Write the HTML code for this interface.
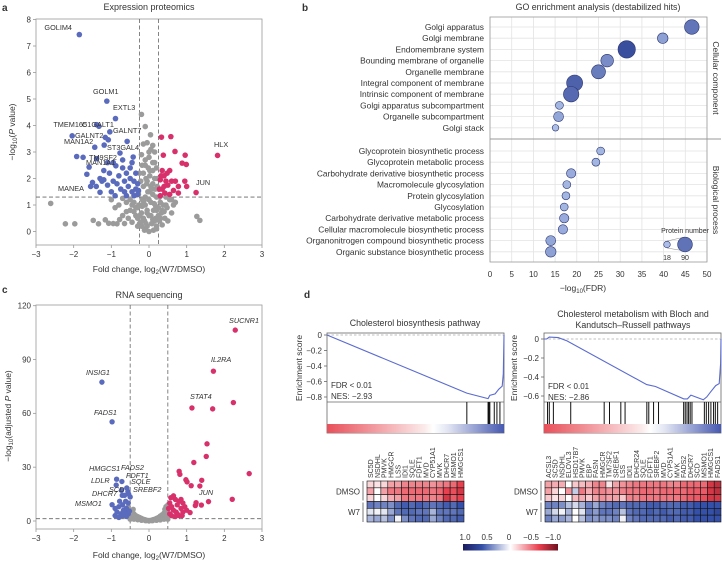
<!DOCTYPE html>
<html><head><meta charset="utf-8">
<style>
html,body{margin:0;padding:0;background:#fff;}
svg{display:block;font-family:"Liberation Sans",sans-serif;}
text{fill:#333;}
</style></head>
<body>
<svg id="fig" width="722" height="563" viewBox="0 0 722 563" xmlns="http://www.w3.org/2000/svg">
<g id="pa"></g>
<g id="pb"></g>
<g id="pc"></g>
<g id="pd"></g>
</svg>
<script>
// ---------- DATA ----------
const aGrayX=[-2.61,-2.22,-1.97,-1.48,-1.34,-1.16,-1.07,-0.95,-0.85,-0.78,-0.7,-0.65,-0.55,-0.5,-0.45,-0.4,-0.35,-0.3,-0.28,-0.25,-0.2,-0.18,-0.15,-0.12,-0.1,-0.08,-0.05,-0.03,0,0.02,0.05,0.07,0.1,0.12,0.15,0.18,0.2,0.22,0.25,0.28,0.3,0.33,0.38,0.42,0.48,0.55,0.6,0.65,1.27,1.35,-0.2,-0.1,0.04,-0.15,-0.05,0.1,0.15,-0.2,0,0.1,-0.1,0.05,-0.25,-0.6,-0.8,-0.9,-1.0,0.2,-0.1,0,-0.3,0.35,-0.6,0.5,-0.18,0.16,-0.22,0.2,0.26,-0.27,0.45,0.6,-0.5,0.7,-0.7,0.1,-0.05,
 -0.15,-0.05,0.05,0.15,-0.1,0,0.1,-0.2,0.2,-0.15,0.15,-0.05,0.05,-0.25,0.25,-0.1,0.1,0,-0.2,0.2,-0.3,0.3,-0.35,0.35,-0.12,0.12,-0.02,0.02,-0.08,0.08,-0.18,0.18,-0.4,0.4,-0.45,0.45,-0.28,0.28,0,-0.06,0.06,-0.14,0.14,-0.22,0.22];
const aGrayY=[1.06,0.29,0.29,0.42,0.29,0.44,0.31,0.3,0.29,0.45,0.6,0.3,0.5,0.8,0.35,1.1,0.6,0.9,1.4,0.3,0.7,1.2,1.7,0.4,1.0,2.0,0.2,1.5,0.6,2.3,1.1,0.3,1.8,0.8,2.6,0.5,1.3,2.0,0.9,0.4,1.1,0.7,1.0,0.5,0.9,1.2,0.7,1.0,0.57,0.42,4.42,3.96,3.65,3.3,3.35,3.25,3.0,2.9,2.8,2.6,2.5,3.1,2.2,1.1,1.0,0.9,1.2,0.1,0.1,0.0,0.2,0.25,0.75,0.4,2.5,1.6,1.9,2.4,1.6,1.0,1.3,1.2,1.2,1.1,1.25,0.45,0.8,
 0.5,0.7,0.6,0.4,1.3,1.5,1.4,1.0,0.8,2.2,2.0,1.9,1.7,0.6,0.6,2.7,2.3,1.2,0.2,0.2,0.5,0.5,0.9,0.8,0.05,0.05,2.4,2.1,0.3,0.3,0.95,0.95,0.75,0.75,1.0,1.0,1.5,1.3,3.0,1.8,1.6,1.15,1.05,0.35,1.7];
const aBlueX=[-1.85,-1.12,-0.89,-1.39,-1.33,-1.04,-0.58,-2.04,-1.16,-1.08,-1.44,-1.19,-0.77,-0.42,-1.39,-1.30,-1.92,-1.59,-1.65,-0.88,-1.2,-1.05,-0.7,-0.6,-0.5,-0.4,-0.35,-0.3,-0.45,-0.55,-0.65,-0.75,-0.85,-0.95,-1.1,-1.25,-1.4,-1.55,-1.5,-1.0,-0.9,-0.6,-0.5,-0.35,-0.3,-0.8,-1.3,-1.1,-0.95,-0.7,-0.45,-1.75,-1.2,-0.65,-0.4,-0.28];
const aBlueY=[7.43,4.92,4.26,4.03,3.97,3.76,3.40,3.61,3.55,3.46,3.18,3.26,2.96,2.81,2.75,1.48,2.83,2.43,2.16,2.48,2.3,2.2,2.4,2.2,2.0,1.9,1.6,1.4,1.5,1.7,1.9,1.6,1.8,1.9,1.75,1.9,1.7,1.7,1.85,1.5,1.35,1.35,2.4,2.2,1.8,2.1,2.0,2.6,2.6,2.7,2.6,2.8,1.95,1.5,1.35,1.55];
const aRedX=[1.82,1.25,0.58,0.33,0.38,0.69,0.96,0.88,0.99,0.35,0.4,0.3,0.45,0.5,0.35,0.42,0.3,0.55,0.6,0.7,0.78,0.78,0.95,1.0,0.65,0.48,0.32,0.55,0.4,0.28];
const aRedY=[2.87,1.47,3.58,3.56,2.88,3.02,2.88,2.58,2.53,2.3,2.1,1.95,1.9,1.75,1.6,1.45,1.35,1.4,1.9,1.9,1.7,1.45,1.9,1.7,1.55,2.2,2.1,2.3,1.7,1.6];
const aXTicks=[-3,-2,-1,0,1,2,3];
const aYTicks=[0,1,2,3,4,5,6,7,8];

const goTerms=["Golgi apparatus","Golgi membrane","Endomembrane system","Bounding membrane of organelle","Organelle membrane","Integral component of membrane","Intrinsic component of membrane","Golgi apparatus subcompartment","Organelle subcompartment","Golgi stack","Glycoprotein biosynthetic process","Glycoprotein metabolic process","Carbohydrate derivative biosynthetic process","Macromolecule glycosylation","Protein glycosylation","Glycosylation","Carbohydrate derivative metabolic process","Cellular macromolecule biosynthetic process","Organonitrogen compound biosynthetic process","Organic substance biosynthetic process"];
const goFDR=[46.5,39.8,31.5,27,25,19.5,18.7,16,15.8,15.1,25.5,24.4,18.7,17.7,17.5,17.1,17.1,16.8,14,14];
const goCount=[88,46,125,66,81,106,98,26,41,18,26,26,36,26,26,26,36,36,41,46];
const goXTicks=[0,5,10,15,20,25,30,35,40,45,50];

const cGrayX=[-0.5,-0.45,-0.4,-0.35,-0.3,-0.25,-0.2,-0.15,-0.1,-0.05,0,0.05,0.1,0.15,0.2,0.25,0.3,0.35,0.4,0.45,0.5,-0.5,-0.45,-0.4,-0.3,-0.2,0.2,0.3,0.4,0.45,0.48,-0.48,-0.38,0.38,-0.55,0.5,0.45,-0.6,-0.42,0.42,0,-0.1,0.1,0.5,-0.5,-0.32,0.32,-0.22,0.22,-0.47,-0.43,0.43,0.47,-0.27,0.27,-0.17,0.17,-0.07,0.07];
const cGrayY=[6,5,4,3,2.5,2,1.5,1,0.7,0.4,0.3,0.4,0.7,1,1.5,2,2.8,3.5,4.5,5.5,7,2,1.5,1,0.7,0.4,0.4,0.6,1,2,3,3.5,2,2,8,9,8,4,6.5,6.5,0,0.2,0.2,1,1,1.5,1.5,0.8,0.8,4.5,3,3,5,1.2,1.2,0.6,0.6,0.2,0.2];
const cBlueX=[-1.25,-0.98,-0.86,-0.72,-0.59,-0.87,-0.73,-0.71,-0.65,-0.56,-0.54,-0.5,-0.98,-0.9,-0.8,-0.7,-0.6,-0.55,-0.85,-0.75,-0.65,-0.55,-0.9,-0.8,-0.7,-0.6,-0.52,-0.62,-0.78,-0.68];
const cBlueY=[77.4,55.3,23.3,22,18.4,20,17.1,14.3,14.3,16.4,15,13.4,9.1,7,8,9,7,10,5,4,5,4,3,2,3,2.5,5.5,11,11,6];
const cRedX=[2.29,1.71,1.14,1.69,2.24,1.54,1.52,1.19,2.66,0.82,0.8,0.98,1.01,1.12,1.4,1.35,1.25,1.58,2.21,1.23,1.39,1.09,0.55,0.6,0.65,0.7,0.75,0.8,0.85,0.9,0.95,0.55,0.6,0.7,0.8,0.65,0.75,0.85,0.9,1.0,0.58,0.52,0.72,0.88];
const cRedY=[106.4,83.5,63,62.5,66,43,36,32.6,26.4,26,27.7,23,21.8,19.7,22.7,19.5,10.2,10.8,12.1,8.6,8.9,4.7,10,8,6,12,9,11,7,5,8,4,3,2.5,3,14,4,12,10,6,13,7,5,3];
const cXTicks=[-3,-2,-1,0,1,2,3];
const cYTicks=[0,30,60,90,120];

const gsea1Rank=[0,0.79,0.91,0.92,0.95,0.97,0.99,0.996,1];
const gsea1ES=[0,-0.75,-0.82,-0.78,-0.76,-0.70,-0.66,-0.5,0];
const gsea1Hits=[0.79,0.91,0.915,0.92,0.945,0.96,0.977];
const gsea2Rank=[0,0.015,0.03,0.08,0.13,0.58,0.63,0.79,0.81,0.83,0.90,0.92,0.94,0.97,0.99,0.998,1];
const gsea2ES=[0,0,0.02,0.015,-0.02,-0.48,-0.50,-0.63,-0.63,-0.59,-0.64,-0.61,-0.56,-0.49,-0.47,-0.26,0];
const gsea2Hits=[0.02,0.03,0.053,0.151,0.34,0.37,0.434,0.458,0.581,0.592,0.619,0.647,0.789,0.798,0.808,0.817,0.826,0.836,0.906,0.917,0.930,0.943,0.958,0.968,0.981];
const esTicks1=[0,-0.2,-0.4,-0.6,-0.8];
const esTicks2=[0,-0.2,-0.4,-0.6];

const hm1Genes=["SC5D","NSDHL","PMVK","HMGCR","LSS","IDI1","SQLE","FDFT1","MVD","CYP51A1","MVK","DHCR7","MSMO1","HMGCS1"];
const hm1Rows=[
[-0.15,-0.1,-0.15,-0.35,-0.35,-0.45,-0.45,-0.45,-0.45,-0.4,-0.45,-0.5,-0.55,-0.7],
[-0.35,0,-0.35,-0.5,-0.5,-0.55,-0.55,-0.55,-0.55,-0.5,-0.55,-0.7,-0.65,-0.75],
[-0.15,0,-0.15,-0.3,-0.35,-0.5,-0.5,-0.5,-0.5,-0.45,-0.5,-0.75,-0.6,-0.7],
[0.55,0.5,0.5,0.45,0.6,0.65,0.6,0.65,0.6,0.55,0.6,0.65,0.6,0.7],
[0.1,0.05,0.1,0.35,0.55,0.6,0.6,0.55,0.55,0.3,0.55,0.55,0.55,0.6],
[0.3,0.35,0.25,0.45,0.05,0.45,0.55,0.6,0.6,0.35,0.5,0.6,0.6,0.65]];
const hm2Genes=["ACSL3","SC5D","NSDHL","ELOVL3","HSD17B7","PMVK","EBP","FASN","HMGCR","TM7SF2","SREBF1","LSS","IDI1","DHCR24","SQLE","FDFT1","SREBF2","MVD","CYP51A1","MVK","FADS2","DHCR7","SCD","MSMO1","HMGCS1","FADS1"];
const hm2Rows=[
[-0.35,-0.3,-0.3,0,-0.2,-0.25,-0.3,-0.45,-0.45,-0.1,-0.35,-0.4,-0.45,-0.5,-0.5,-0.5,-0.5,-0.5,-0.45,-0.45,-0.55,-0.55,-0.55,-0.55,-0.75,-0.8],
[-0.35,-0.15,0,-0.4,0.2,-0.5,-0.3,-0.45,-0.45,-0.4,-0.4,-0.45,-0.5,-0.5,-0.55,-0.55,-0.5,-0.55,-0.55,-0.55,-0.55,-0.6,-0.6,-0.6,-0.75,-0.8],
[-0.2,-0.1,-0.15,0,-0.25,-0.3,-0.2,-0.35,-0.4,-0.35,-0.35,-0.2,-0.45,-0.45,-0.5,-0.5,-0.5,-0.5,-0.5,-0.5,-0.55,-0.6,-0.6,-0.65,-0.75,-0.75],
[0.5,0.5,0.45,0.25,0.15,0.3,0.5,0.35,0.5,0.55,0.6,0.55,0.6,0.6,0.6,0.65,0.65,0.6,0.6,0.6,0.65,0.65,0.7,0.7,0.7,0.7],
[0.35,0.15,0.05,0.3,0,0.1,0.5,0.4,0.55,0.55,0.5,0.25,0.55,0.6,0.6,0.65,0.6,0.65,0.6,0.6,0.65,0.65,0.7,0.7,0.7,0.75],
[0.5,0.35,0.4,0.3,0,0.25,0.45,0.4,0.45,0.45,0.5,0.05,0.5,0.55,0.6,0.6,0.6,0.6,0.65,0.6,0.65,0.65,0.7,0.7,0.7,0.7]];
const cbTicks=[1.0,0.5,0,-0.5,-1.0];

// ---------- HELPERS ----------
const NS="http://www.w3.org/2000/svg";
function mk(parent,tag,attrs){const e=document.createElementNS(NS,tag);for(const k in attrs)e.setAttribute(k,attrs[k]);parent.appendChild(e);return e;}
function txt(parent,x,y,s,size,anchor,extra){const e=mk(parent,"text",Object.assign({x:x,y:y,"font-size":size,"text-anchor":anchor||"start"},extra||{}));e.textContent=s;return e;}
function fmt(v){return (v<0?"\u2212":"")+Math.abs(v);}
const BLUE="#5a6bbd",RED="#d8306b",GRAY="#9b9b9b";

// ---------- VOLCANO ----------
function volcano(g,o){
  const sx=v=>o.x0+(v-o.xmin)/(o.xmax-o.xmin)*(o.x1-o.x0);
  const sy=v=>o.y0+(v-o.ymin)/(o.ymax-o.ymin)*(o.yTop-o.y0);
  const fr=mk(g,"rect",{x:o.x0,y:o.fy0,width:o.x1-o.x0,height:o.fy1-o.fy0,fill:"none",stroke:"#999","stroke-width":0.8});
  
  
  o.xt.forEach(t=>{const l=mk(g,"line",{x1:sx(t),x2:sx(t),y1:o.fy1,y2:o.fy1+3,stroke:"#999","stroke-width":0.8});
    
    
    const e=txt(g,sx(t),o.fy1+12,fmt(t),8,"middle");
    
    });
  o.yt.forEach(t=>{const l=mk(g,"line",{x1:o.x0-3,x2:o.x0,y1:sy(t),y2:sy(t),stroke:"#999","stroke-width":0.8});
    
    
    const e=txt(g,o.x0-5,sy(t)+2.8,String(t),8,"end");
    
    });
  const dash={stroke:"#666","stroke-width":0.8,"stroke-dasharray":"4,2.5"};
  o.vlines.forEach(v=>{const l=mk(g,"line",Object.assign({x1:sx(v),x2:sx(v),y1:o.fy0,y2:o.fy1},dash));
    
    });
  const h=mk(g,"line",Object.assign({x1:o.x0,x2:o.x1,y1:sy(1.3),y2:sy(1.3)},dash));
  
  
  const sets=[[o.gx,o.gy,GRAY,'point-nonsignificant'],[o.bx,o.by,BLUE,'point-down'],[o.rx,o.ry,RED,'point-up']];
  sets.forEach(s=>{s[0].forEach((xv,i)=>{const c=mk(g,"circle",{cx:sx(xv),cy:sy(s[1][i]),r:o.r,fill:s[2]});
    
    });});
}

// ---------- PANEL A ----------
const A=document.getElementById("pa");
volcano(A,{x0:36,x1:262,xmin:-3,xmax:3,y0:231.5,yTop:19.5,ymin:0,ymax:8,fy0:19,fy1:245,xt:aXTicks,yt:aYTicks,vlines:[-0.25,0.25],
  gx:aGrayX,gy:aGrayY,bx:aBlueX,by:aBlueY,rx:aRedX,ry:aRedY,r:2.8});
(function(){
  let e=txt(A,2,11,"a",10,"start",{"font-weight":"bold",fill:"#000"});
  e=txt(A,149,10,"Expression proteomics",9,"middle");
  e=txt(A,149,272,"",8.5,"middle");
  e.innerHTML='Fold change, log<tspan font-size="6" dy="2">2</tspan><tspan dy="-2">(W7/DMSO)</tspan>';
  e=txt(A,0,0,"",8.5,"middle",{transform:"translate(15,132) rotate(-90)"});
  e.innerHTML='\u2212log<tspan font-size="6" dy="2">10</tspan><tspan dy="-2">(</tspan><tspan font-style="italic">P</tspan> value)';
  const labs=[["GOLIM4",72,30,"end"],["GOLM1",93,94,"start"],["EXTL3",113,110,"start"],["C1GALT1",82,127,"start"],["TMEM165",87,127,"end"],["GALNT7",113,133,"start"],["GALNT2",75,138,"start"],["MAN1A2",64,144,"start"],["ST3GAL4",107,150,"start"],["TM9SF2",89,160,"start"],["MAN1A1",86,165,"start"],["MANEA",58,191,"start"],["HLX",214,147,"start"],["JUN",196,185,"start"]];
  labs.forEach(l=>{const t=txt(A,l[1],l[2],l[0],7.3,l[3]);});
})();

// ---------- PANEL B ----------
const B=document.getElementById("pb");
(function(){
  const X0=490,X1=707,FY0=17,FY1=262;
  const sx=v=>X0+v/50*(X1-X0);
  const rowY=i=>i<10?27+i*11.2:151+(i-10)*11.2;
  let e=txt(B,302,11,"b",10,"start",{"font-weight":"bold",fill:"#000"});
  e=txt(B,598,10,"GO enrichment analysis (destabilized hits)",8.8,"middle");
  goXTicks.forEach(t=>{const l=mk(B,"line",{x1:sx(t),x2:sx(t),y1:FY0,y2:FY1,stroke:"#e3e3e3","stroke-width":0.8});
    
    const tt=txt(B,sx(t),277,String(t),8,"middle");});
  goTerms.forEach((s,i)=>{const l=mk(B,"line",{x1:X0,x2:X1,y1:rowY(i),y2:rowY(i),stroke:"#e3e3e3","stroke-width":0.8});
    
    const t=txt(B,484,rowY(i)+3,s,8.4,"end");});
  const fr=mk(B,"rect",{x:X0,y:FY0,width:X1-X0,height:FY1-FY0,fill:"none",stroke:"#999","stroke-width":0.8});
  
  const sep=mk(B,"line",{x1:X0,x2:X1+14,y1:139,y2:139,stroke:"#999","stroke-width":1});
  
  const rr=n=>3.3*Math.sqrt(n/18);
  const col=n=>{const t=Math.min(1,Math.max(0,(n-18)/(107)));const a=[172,190,232],b=[58,78,158];
    return "rgb("+a.map((v,k)=>Math.round(v+(b[k]-v)*t)).join(",")+")";};
  goFDR.forEach((v,i)=>{const c=mk(B,"circle",{cx:sx(v),cy:rowY(i),r:rr(goCount[i]),fill:col(goCount[i]),stroke:"#2a3570","stroke-width":0.6});
    });
  e=txt(B,0,0,"Cellular component",8.5,"middle",{transform:"translate(713,78) rotate(90)"});
  e=txt(B,0,0,"Biological process",8.5,"middle",{transform:"translate(713,200) rotate(90)"});
  e=txt(B,583,291,"",8.5,"middle");
  e.innerHTML='\u2212log<tspan font-size="6" dy="2">10</tspan><tspan dy="-2">(FDR)</tspan>';
  e=txt(B,685,233,"Protein number",7,"middle");
  mk(B,"line",{x1:667,y1:241,x2:685,y2:237,stroke:"#888","stroke-width":0.5});
  mk(B,"line",{x1:667,y1:248,x2:685,y2:251,stroke:"#888","stroke-width":0.5});
  let c=mk(B,"circle",{cx:667,cy:244.5,r:rr(18),fill:col(18),stroke:"#2a3570","stroke-width":0.6});
  c=mk(B,"circle",{cx:685,cy:244.5,r:rr(90),fill:col(90),stroke:"#2a3570","stroke-width":0.6});
  e=txt(B,667,260,"18",7,"middle");
  e=txt(B,685,260,"90",7,"middle");
})();

// ---------- PANEL C ----------
const C=document.getElementById("pc");
volcano(C,{x0:36,x1:262,xmin:-3,xmax:3,y0:521,yTop:305.7,ymin:0,ymax:120,fy0:305,fy1:529,xt:cXTicks,yt:cYTicks,vlines:[-0.5,0.5],
  gx:cGrayX,gy:cGrayY,bx:cBlueX,by:cBlueY,rx:cRedX,ry:cRedY,r:2.7});
(function(){
  let e=txt(C,2,293,"c",10,"start",{"font-weight":"bold",fill:"#000"});
  e=txt(C,149,298,"RNA sequencing",9,"middle");
  e=txt(C,149,558,"",8.5,"middle");
  e.innerHTML='Fold change, log<tspan font-size="6" dy="2">2</tspan><tspan dy="-2">(W7/DMSO)</tspan>';
  e=txt(C,0,0,"",8.5,"middle",{transform:"translate(11,416) rotate(-90)"});
  e.innerHTML='\u2212log<tspan font-size="6" dy="2">10</tspan><tspan dy="-2">(adjusted </tspan><tspan font-style="italic">P</tspan> value)';
  const labs=[["SUCNR1",229,323],["IL2RA",211,362],["STAT4",190,399],["INSIG1",86,375],["FADS1",94,415],["HMGCS1",89,471],["FADS2",121,470],["FDFT1",126,478],["LDLR",91,483],["SQLE",131,484],["SCD",109,492],["SREBF2",133,492],["DHCR7",92,496],["MSMO1",75,506],["JUN",199,495]];
  labs.forEach(l=>{const t=txt(C,l[1],l[2],l[0],7.3,"start",{"font-style":"italic"});});
})();

// ---------- PANEL D ----------
const D=document.getElementById("pd");
function gsea(o){
  const sx=f=>o.x0+f*(o.x1-o.x0);
  const sy=v=>o.yz+(-v)*o.k;
  const fr=mk(D,"rect",{x:o.x0,y:333,width:o.x1-o.x0,height:100,fill:"none",stroke:"#666","stroke-width":0.8});
  
  mk(D,"line",{x1:o.x0,x2:o.x1,y1:402,y2:402,stroke:"#666","stroke-width":0.8});
  const zl=mk(D,"line",{x1:o.x0,x2:o.x1,y1:sy(0),y2:sy(0),stroke:"#aaa","stroke-width":0.8,"stroke-dasharray":"2.5,2"});
  
  o.ticks.forEach(t=>{mk(D,"line",{x1:o.x0-3,x2:o.x0,y1:sy(t),y2:sy(t),stroke:"#666","stroke-width":0.8});
    const e=txt(D,o.x0-5,sy(t)+2.8,fmt(t),8,"end");});
  const pts=o.rank.map((f,i)=>sx(f).toFixed(1)+","+sy(o.es[i]).toFixed(1)).join(" ");
  const pl=mk(D,"polyline",{points:pts,fill:"none",stroke:"#5a6bd0","stroke-width":1.1});
  
  o.hits.forEach(f=>{const l=mk(D,"line",{x1:sx(f),x2:sx(f),y1:402,y2:424,stroke:"#111","stroke-width":1});
    });
  const gb=mk(D,"rect",{x:o.x0,y:424,width:o.x1-o.x0,height:9,fill:"url(#rankGrad)"});
  
  let e=txt(D,o.x0+4,o.fy,"FDR < 0.01",8);
  e=txt(D,o.x0+4,o.fy+11,o.nes,8);
}
(function(){
  const defs=mk(document.getElementById("fig"),"defs",{});
  const g=mk(defs,"linearGradient",{id:"rankGrad",x1:0,x2:1,y1:0,y2:0});
  [["0","#e8505a"],["0.55","#fbeaea"],["0.6","#ffffff"],["0.68","#e3e6f3"],["1","#4759b0"]].forEach(s=>mk(g,"stop",{offset:s[0],"stop-color":s[1]}));
  const g2=mk(defs,"linearGradient",{id:"cbGrad",x1:0,x2:1,y1:0,y2:0});
  [["0","#1c1c5e"],["0.2","#3550a8"],["0.5","#ffffff"],["0.8","#e8404e"],["1","#6e1020"]].forEach(s=>mk(g2,"stop",{offset:s[0],"stop-color":s[1]}));
  let e=txt(D,304,298,"d",10,"start",{"font-weight":"bold",fill:"#000"});
  gsea({x0:327,x1:504,yz:335,k:77.5,ticks:esTicks1,rank:gsea1Rank,es:gsea1ES,hits:gsea1Hits,nes:"NES: \u22122.93",fy:388});
  gsea({x0:544,x1:721,yz:339,k:95,ticks:esTicks2,rank:gsea2Rank,es:gsea2ES,hits:gsea2Hits,nes:"NES: \u22122.86",fy:389});
  e=txt(D,415,326,"Cholesterol biosynthesis pathway",8.8,"middle");
  e=txt(D,633,317,"Cholesterol metabolism with Bloch and",8.8,"middle");
  e=txt(D,633,328,"Kandutsch\u2013Russell pathways",8.8,"middle");
  e=txt(D,0,0,"Enrichment score",8.5,"middle",{transform:"translate(302,368) rotate(-90)"});
  e=txt(D,0,0,"Enrichment score",8.5,"middle",{transform:"translate(517,368) rotate(-90)"});
  function colr(v){
    const lerp=(a,b,t)=>a.map((x,k)=>Math.round(x+(b[k]-x)*t));
    let c;
    if(v>=0){c=v<=0.7?lerp([255,255,255],[53,80,168],v/0.7):lerp([53,80,168],[28,28,94],(v-0.7)/0.3);}
    else{const a=-v;c=a<=0.7?lerp([255,255,255],[232,64,78],a/0.7):lerp([232,64,78],[110,16,32],(a-0.7)/0.3);}
    return "rgb("+c.join(",")+")";
  }
  function heat(x0,x1,genes,rows){
    const cw=(x1-x0)/genes.length,y0=481,rh=(522-481)/rows.length;
    rows.forEach((r,ri)=>r.forEach((v,ci)=>{const c=mk(D,"rect",{x:x0+ci*cw,y:y0+ri*rh,width:cw,height:rh,fill:colr(v),stroke:"#111","stroke-width":0.6});
      }));
    genes.forEach((gname,ci)=>{const t=txt(D,0,0,gname,7,"start",{transform:"translate("+(x0+ci*cw+cw/2+2.4)+",478) rotate(-90)"});
      });
    mk(D,"line",{x1:x0-4,x2:x0-4,y1:y0,y2:y0+3*rh-1,stroke:"#555","stroke-width":0.8});
    mk(D,"line",{x1:x0-4,x2:x0-4,y1:y0+3*rh+1,y2:522,stroke:"#555","stroke-width":0.8});
    let e=txt(D,x0-7,y0+1.5*rh+3,"DMSO",8,"end");
    e=txt(D,x0-7,y0+4.5*rh+3,"W7",8,"end");
  }
  heat(367,464,hm1Genes,hm1Rows);
  heat(545,721,hm2Genes,hm2Rows);
  const cb=mk(D,"rect",{x:463,y:544,width:95,height:6.5,fill:"url(#cbGrad)"});
  
  cbTicks.forEach((t,i)=>{const x=465+(i/(cbTicks.length-1))*88;
    const e=txt(D,x,540,(t===0?"0":(t<0?"\u2212":"")+Math.abs(t).toFixed(1)),8,"middle");
    });
})();
</script>
</body></html>
